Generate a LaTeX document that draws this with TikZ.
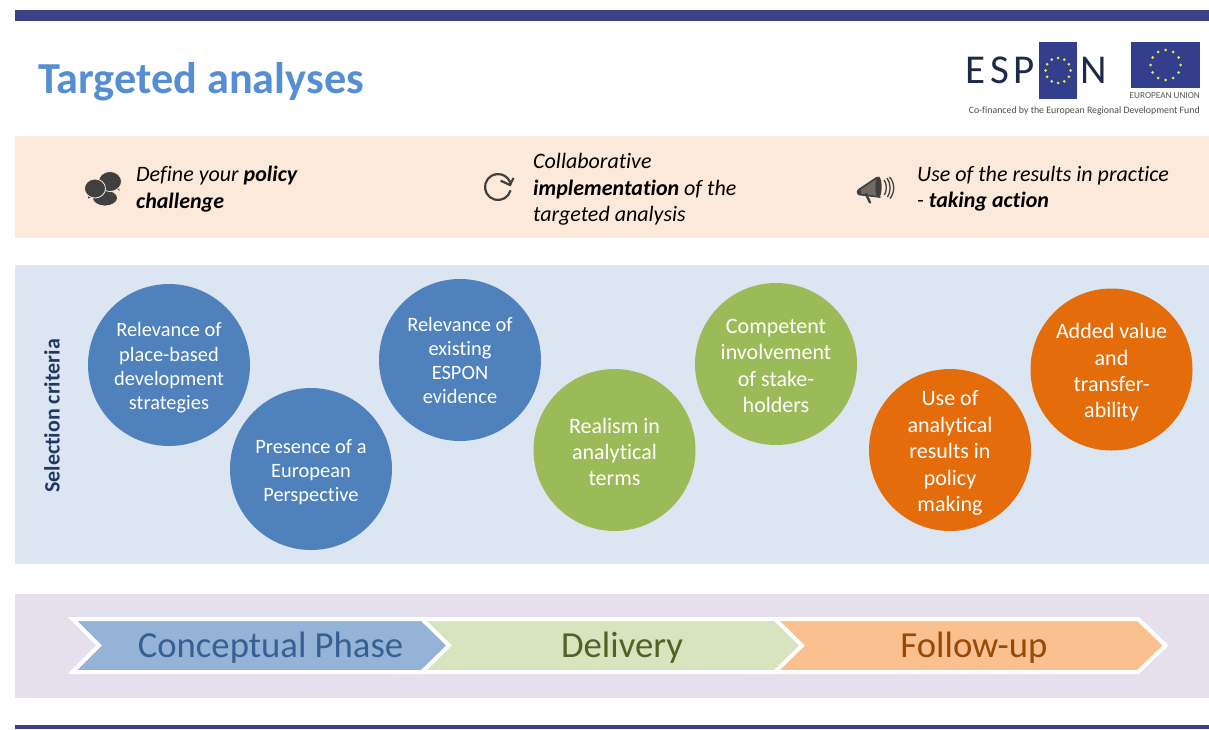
\documentclass[tikz,border=0pt]{standalone}
\usepackage{fontspec}
\setmainfont[Ligatures=NoCommon]{Carlito}
\usetikzlibrary{arrows.meta}
\definecolor{barc}{HTML}{3B4288}
\definecolor{peach}{HTML}{FDE9D9}
\definecolor{lblue}{HTML}{DCE6F2}
\definecolor{lpurp}{HTML}{E6E0EC}
\definecolor{cblue}{HTML}{4F81BD}
\definecolor{cgreen}{HTML}{9BBB59}
\definecolor{corange}{HTML}{E46C0A}
\definecolor{titlec}{HTML}{558ED5}
\definecolor{navy}{HTML}{1F3864}
\definecolor{icon}{HTML}{404040}
\definecolor{flag}{HTML}{333F8C}
\definecolor{logotxt}{HTML}{1E2A4A}
\definecolor{star}{HTML}{E8E84A}
\definecolor{cheva}{RGB}{149,179,215}
\definecolor{chevb}{RGB}{215,228,189}
\definecolor{chevc}{RGB}{250,192,144}
\definecolor{txta}{RGB}{55,96,146}
\definecolor{txtb}{RGB}{79,98,40}
\definecolor{txtc}{RGB}{152,72,7}
\newcommand{\fs}[2]{\fontsize{#1}{#2}\selectfont}
\newcommand{\ringofstars}[3]{\foreach \a in {0,30,...,330}{\fill[star] (#1,#2) ++(\a:#3) circle (1.5);}}
\tikzset{
  panel/.style={draw=none,minimum width=1194,inner sep=0,anchor=north west},
  crit/.style={circle,minimum size=162,inner sep=0},
  crittxt/.style={inner sep=0,text=white,align=center,font=\fs{20.4}{24.3}},
  crittxtb/.style={crittxt,font=\fs{22}{26.4}},
  chev/.style={draw=white,line width=4,line join=miter},
  phase/.style={inner sep=0,font=\fs{36.7}{40}},
  say/.style={inner sep=0,anchor=west,align=left,font=\fs{22}{26.4}\itshape},
  letter/.style={inner sep=0,text=logotxt,font=\fs{41}{41}}
}
\begin{document}
\begin{tikzpicture}[x=1pt,y=-1pt]
\useasboundingbox (0,0) rectangle (1209,729);
\fill[white] (0,0) rectangle (1209,729);
% bands
\node[panel,fill=barc,minimum height=11] (topbar) at (15,10) {};
\node[panel,fill=peach,minimum height=102] (peachband) at (15,136) {};
\node[panel,fill=lblue,minimum height=299] (blueband) at (15,265) {};
\node[panel,fill=lpurp,minimum height=104] (purpleband) at (15,594) {};
\node[panel,fill=barc,minimum height=4] (botbar) at (15,725) {};
% title
\node[inner sep=0,anchor=west,text=titlec,font=\fs{44.3}{48}\bfseries] (title) at (38,81.5) {Targeted analyses};
% logo
\node[letter] (lE) at (975,70) {E};
\node[letter] (lS) at (1000,70) {S};
\node[letter] (lP) at (1024,70) {P};
\node[letter] (lN) at (1094,70) {N};
\node[fill=flag,minimum width=38,minimum height=57,inner sep=0] (flagA) at (1058,70.5) {};
\ringofstars{1058}{70.5}{12.5}
\node[fill=flag,minimum width=69,minimum height=46,inner sep=0] (flagB) at (1165.5,65) {};
\ringofstars{1165.5}{65}{15}
\node[inner sep=0,anchor=east,text=black!65,font=\fs{9.2}{10}] (eu) at (1200,95.5) {EUROPEAN UNION};
\node[inner sep=0,anchor=east,text=black!70,font=\fs{9.85}{12}] (cofin) at (1200,110.5) {Co-financed by the European Regional Development Fund};
% icon 1: speech bubbles
\begin{scope}[fill=icon,draw=peach,line width=0.8]
  \fill[icon] (99,203) -- (103,206) -- (107,203) -- cycle;
  \filldraw (105,198) ellipse (12.5 and 8);
  \fill[icon] (114,186) -- (119.5,191) -- (118,182) -- cycle;
  \filldraw (110,181.5) ellipse (11.5 and 10);
  \fill[icon] (89,192) -- (88,198.5) -- (95,196) -- cycle;
  \filldraw (95,188.5) ellipse (10.5 and 9.5);
\end{scope}
% icon 2: refresh
\draw[icon,line width=2.2] (498,187) ++(15:13) arc[start angle=15,end angle=350,radius=13];
\draw[icon,line width=2.2,line join=miter] (500.7,180.7) -- (510,185) -- (513.5,178);
% icon 3: megaphone
\fill[icon!75!peach] (859,189) -- (877,177) -- (880,197) -- (859,194.5) -- cycle;
\draw[icon,line width=1.6,line cap=round,line join=round] (859,189.5) -- (877,177.5);
\draw[icon,line width=1.6,line cap=round,line join=round] (859,194.5) -- (880,197);
\fill[icon] (859,192) ellipse (2.2 and 3);
\fill[icon] (878.5,187) ellipse (3.2 and 10.5);
\draw[icon,line width=2.4,line cap=round] (866,194) -- (870,202.5);
\draw[icon,line width=1.3] (884,180) .. controls (887,184) and (887,190) .. (884.5,195);
\draw[icon,line width=1.3] (887,178) .. controls (891,183) and (891,192) .. (887.5,197);
\draw[icon,line width=1.3] (889.5,177) .. controls (895,183) and (895,192) .. (890,198.5);
% top texts
\node[say] (say1) at (136,189) {Define your \textbf{policy}\\\textbf{challenge}};
\node[say] (say2) at (533,189.5) {Collaborative\\\textbf{implementation} of the\\targeted analysis};
\node[say] (say3) at (917,189) {Use of the results in practice\\- \textbf{taking action}};
% selection criteria
\node[inner sep=0,rotate=90,text=navy,font=\fs{22}{24}\bfseries] (selcrit) at (52,416) {Selection criteria};
% circles
\node[crit,fill=cblue] (c1) at (169,365) {};
\node[crit,fill=cblue] (c2) at (311,469) {};
\node[crit,fill=cblue] (c3) at (460,360) {};
\node[crit,fill=cgreen] (c4) at (614.5,450) {};
\node[crit,fill=cgreen] (c5) at (776,364) {};
\node[crit,fill=corange] (c6) at (950,450) {};
\node[crit,fill=corange] (c7) at (1111.5,369.5) {};
\node[crittxt] (t1) at (169,368) {Relevance of\\place-based\\development\\strategies};
\node[crittxt] (t2) at (311,472) {Presence of a\\European\\Perspective};
\node[crittxt] (t3) at (460,360.5) {Relevance of\\existing\\ESPON\\evidence};
\node[crittxtb] (t4) at (614.5,452) {Realism in\\analytical\\terms};
\node[crittxtb] (t5) at (776,366) {Competent\\involvement\\of stake-\\holders};
\node[crittxtb] (t6) at (950,453) {Use of\\analytical\\results in\\policy\\making};
\node[crittxtb] (t7) at (1111.5,372.5) {Added value\\and\\transfer-\\ability};
% phases
\coordinate (tipA) at (449,645.5);
\coordinate (tipB) at (802,645.5);
\coordinate (tipC) at (1165.5,645.5);
\draw[chev,fill=chevc] (745,619) -- (1138,619) -- (tipC) -- (1138,672) -- (745,672) -- cycle;
\draw[chev,fill=chevb] (395,619) -- (775,619) -- (tipB) -- (775,672) -- (395,672) -- cycle;
\draw[chev,fill=cheva] (72.5,619) -- (422,619) -- (tipA) -- (422,672) -- (72.5,672) -- (99,645.5) -- cycle;
\node[phase,text=txta] (p1) at (270.5,647.5) {Conceptual Phase};
\node[phase,text=txtb] (p2) at (622,647.5) {Delivery};
\node[phase,text=txtc] (p3) at (974,647.5) {Follow-up};
\end{tikzpicture}
\end{document}
